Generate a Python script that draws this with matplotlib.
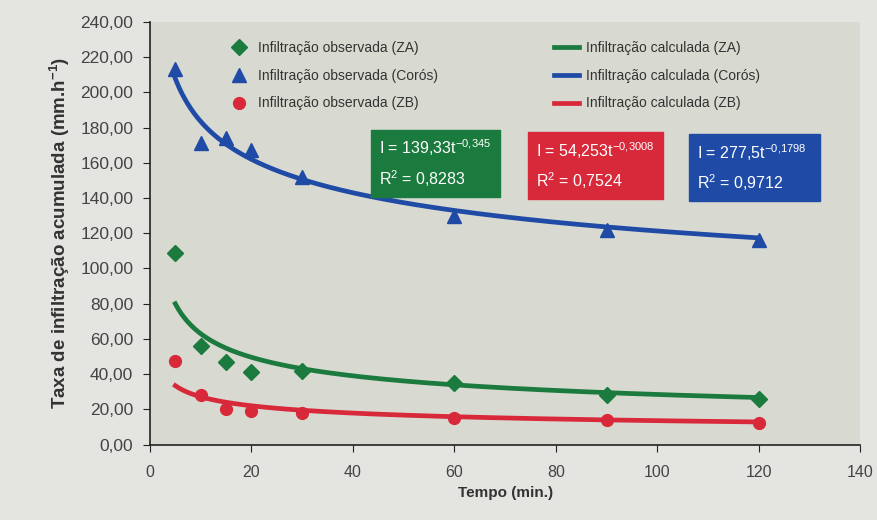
import matplotlib
matplotlib.use("Agg")
import matplotlib.pyplot as plt
import numpy as np
from matplotlib.ticker import FuncFormatter

plt.rcParams["font.family"] = ["Liberation Sans", "DejaVu Sans"]
plt.rcParams["mathtext.fontset"] = "custom"
plt.rcParams["mathtext.rm"] = "Liberation Sans"
plt.rcParams["mathtext.bf"] = "Liberation Sans:bold"

# ---- data ----
tempo = [5, 10, 15, 20, 30, 60, 90, 120]
obs_za = [109, 56, 47, 41, 42, 35, 28, 26]
obs_coros = [213, 171, 174, 167, 152, 130, 122, 116]
obs_zb = [47.5, 28, 20, 19, 18, 15, 14, 12]

# trendline coefficients printed on the chart (I = a * t^b)
coef_za = (139.33, -0.345)
coef_coros = (277.5, -0.1798)
coef_zb = (54.253, -0.3008)

eq_za = ["I = 139,33t$^{-0{,}345}$ ", "R$^{2}$ = 0,8283"]
eq_zb = ["I = 54,253t$^{-0{,}3008}$ ", "R$^{2}$ = 0,7524"]
eq_coros = ["I = 277,5t$^{-0{,}1798}$  ", "R$^{2}$ = 0,9712"]

c_green = "#1b7a3e"
c_blue = "#1f4ba6"
c_red = "#d8293a"

fig = plt.figure(figsize=(8.77, 5.2), dpi=100, facecolor="#e4e4e1")
ax = fig.add_axes([0.171, 0.145, 0.81, 0.813])
ax.set_facecolor("#d8d9d0")

t_fit = np.linspace(tempo[0], tempo[-1], 300)
for (a, b), col, lab in [(coef_za, c_green, "Infiltração calculada (ZA)"),
                         (coef_coros, c_blue, "Infiltração calculada (Corós)"),
                         (coef_zb, c_red, "Infiltração calculada (ZB)")]:
    ax.plot(t_fit, a * t_fit ** b, color=col, lw=3.4, label=lab, zorder=2)

h1, = ax.plot(tempo, obs_za, "D", color=c_green, ms=8.5, ls="none",
              label="Infiltração observada (ZA)", zorder=3)
h2, = ax.plot(tempo, obs_coros, "^", color=c_blue, ms=9.5, ls="none",
              label="Infiltração observada (Corós)", zorder=3)
h3, = ax.plot(tempo, obs_zb, "o", color=c_red, ms=8.5, ls="none",
              label="Infiltração observada (ZB)", zorder=3)

lines = ax.get_lines()
handles = [h1, h2, h3, lines[0], lines[1], lines[2]]
ax.legend(handles=handles, ncol=2, loc="upper left", bbox_to_anchor=(0.09, 0.985),
          frameon=False, fontsize=10, handlelength=1.8, handletextpad=0.5,
          columnspacing=8.3, labelspacing=1.0, labelcolor="#333333")

ax.set_xlim(0, 140)
ax.set_ylim(0, 240)
ax.set_xticks(range(0, 141, 20))
ax.set_yticks(range(0, 241, 20))
ax.yaxis.set_major_formatter(FuncFormatter(lambda v, p: f"{v:.2f}".replace(".", ",")))
ax.tick_params(axis="y", labelsize=12.5, colors="#222222", labelcolor="#444444",
               length=5, pad=7)
ax.tick_params(axis="x", labelsize=11.5, colors="#222222", labelcolor="#444444",
               length=5, pad=10)
for s in ["top", "right"]:
    ax.spines[s].set_visible(False)
ax.spines["left"].set_color("#222222")
ax.spines["bottom"].set_color("#222222")
ax.spines["left"].set_linewidth(1.2)
ax.spines["bottom"].set_linewidth(1.2)

ax.set_xlabel("Tempo (min.)", fontsize=11, fontweight="bold", color="#333333",
              labelpad=4)
ax.set_ylabel("Taxa de infiltração acumulada (mm.h$^{\\mathbf{-1}}$)", fontsize=13.5,
              fontweight="bold", color="#333333", labelpad=6)

for eq, col, x0, y0 in [(eq_za, c_green, 0.322, 0.665), (eq_zb, c_red, 0.543, 0.66),
                        (eq_coros, c_blue, 0.77, 0.655)]:
    ax.text(x0, y0, eq[0] + "\n" + eq[1], transform=ax.transAxes, color="white",
            fontsize=11.5, va="center", ha="left", linespacing=1.6,
            bbox=dict(boxstyle="square,pad=0.5", fc=col, ec=col))

fig.savefig("out.png", dpi=100, facecolor=fig.get_facecolor())
